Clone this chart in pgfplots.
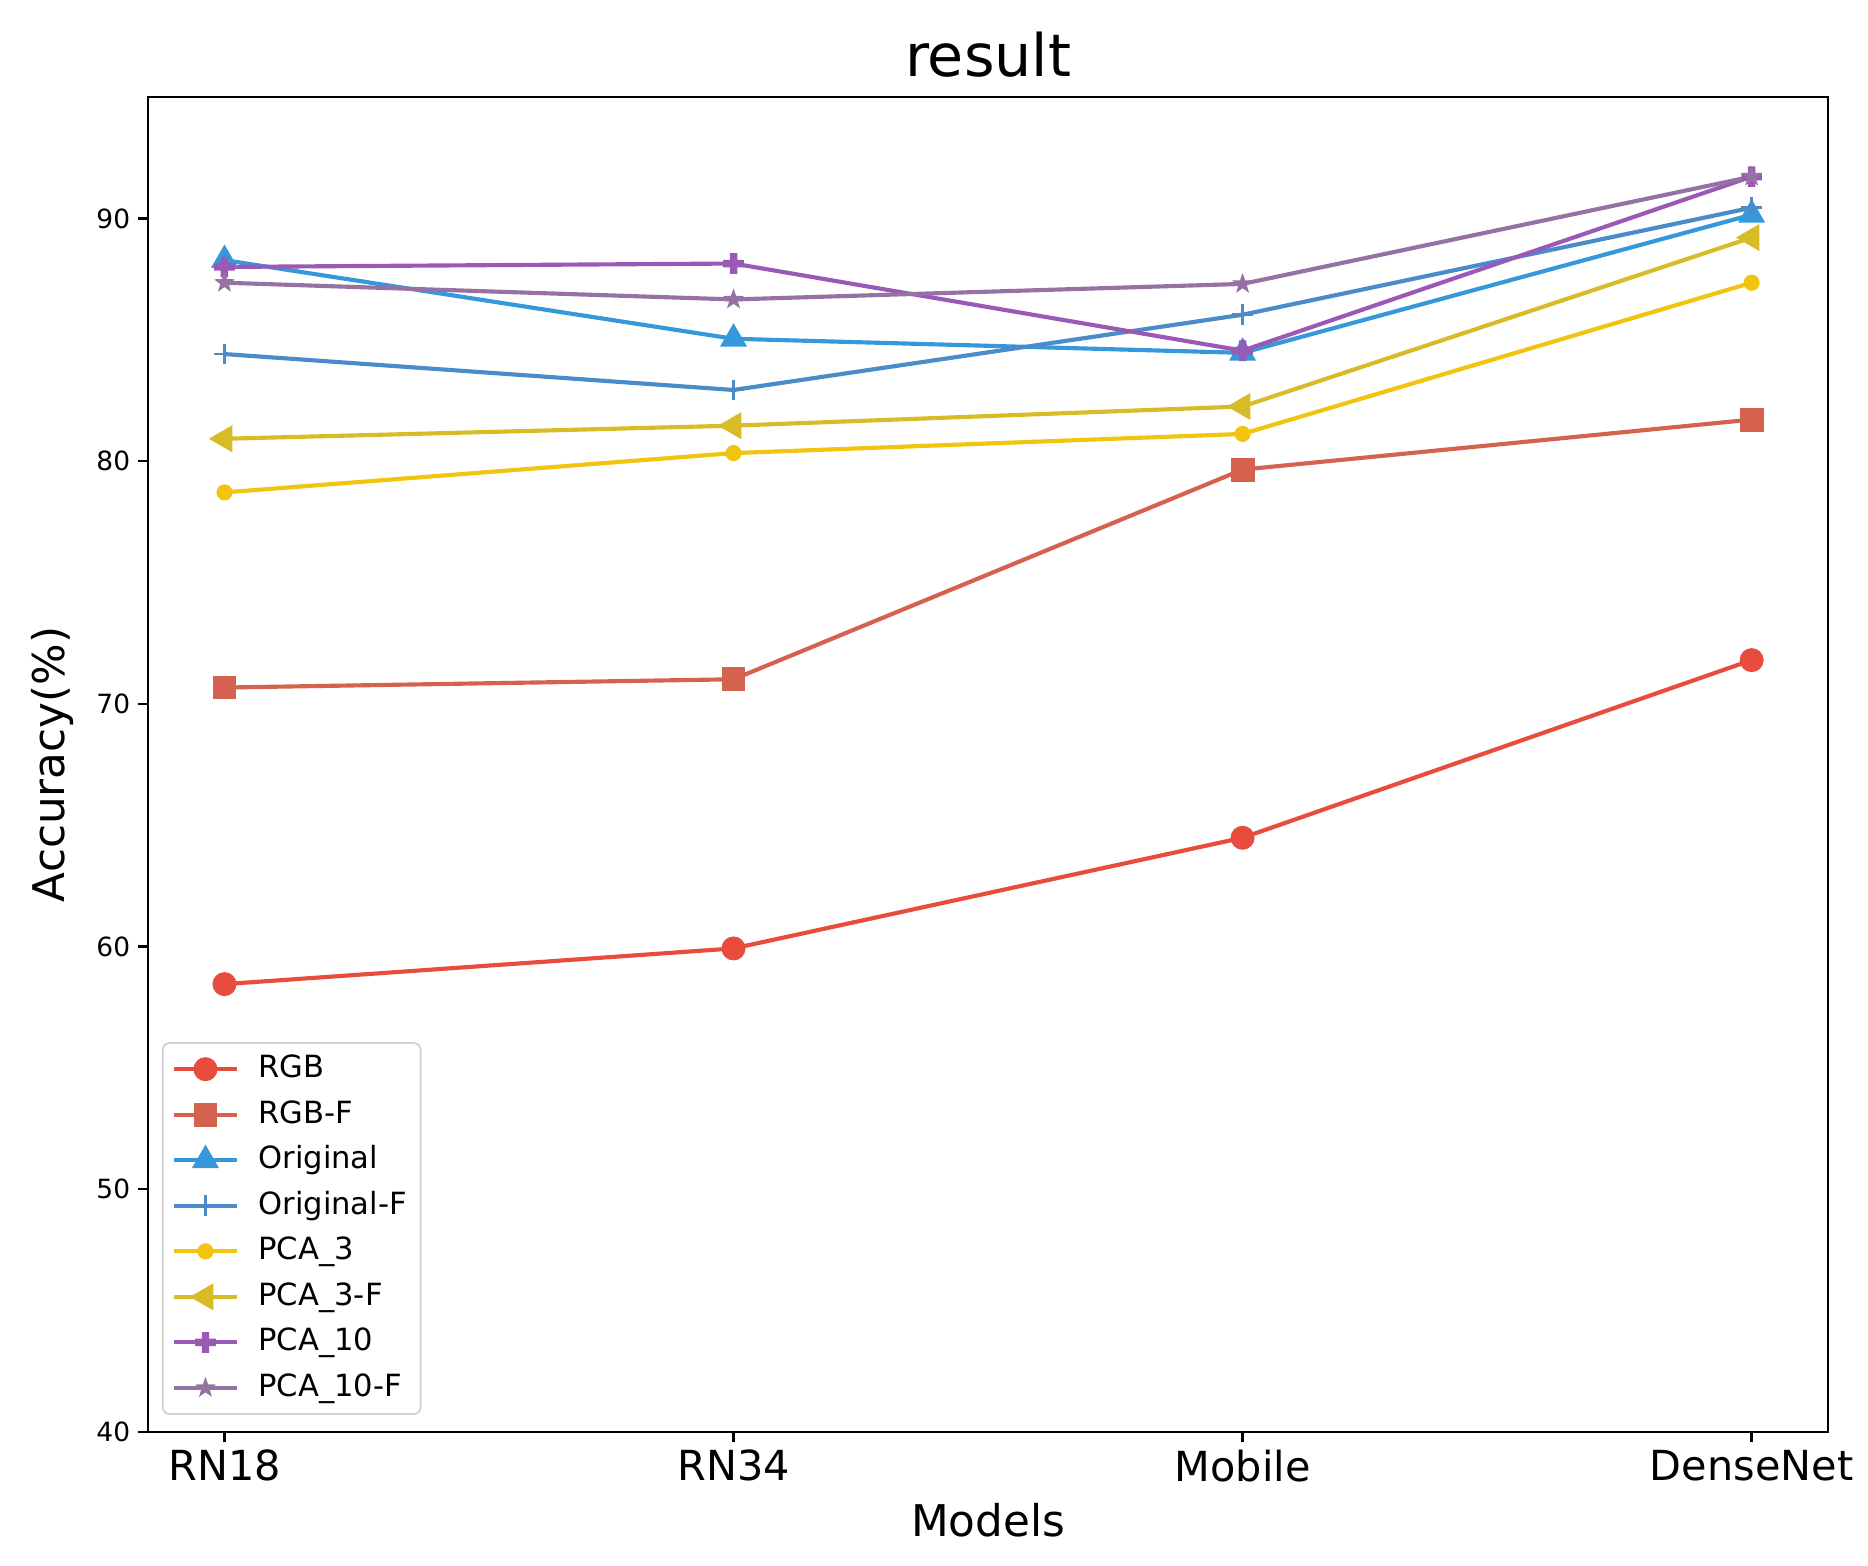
\documentclass[border=0pt]{standalone}
\usepackage{fontspec}
\setmainfont{DejaVu Sans}
\usepackage{pgfplots}
\pgfplotsset{compat=1.18}

\definecolor{cRGB}{HTML}{E74C3C}
\definecolor{cRGBF}{HTML}{D4624F}
\definecolor{cOrig}{HTML}{3498DB}
\definecolor{cOrigF}{HTML}{4A8BC9}
\definecolor{cPCAt}{HTML}{F1C40F}
\definecolor{cPCAtF}{HTML}{D8BC27}
\definecolor{cPCAx}{HTML}{9B59B6}
\definecolor{cPCAxF}{HTML}{9672A4}

% filled plus (matplotlib 'P')
\pgfdeclareplotmark{fplus}{%
  \pgfpathrectanglecorners{\pgfqpoint{-\pgfplotmarksize}{-0.36\pgfplotmarksize}}{\pgfqpoint{\pgfplotmarksize}{0.36\pgfplotmarksize}}%
  \pgfpathrectanglecorners{\pgfqpoint{-0.36\pgfplotmarksize}{-\pgfplotmarksize}}{\pgfqpoint{0.36\pgfplotmarksize}{\pgfplotmarksize}}%
  \pgfusepathqfill}
% filled five-pointed star (matplotlib '*')
\pgfdeclareplotmark{fstar}{%
  \pgfpathmoveto{\pgfpointpolar{90}{\pgfplotmarksize}}%
  \pgfpathlineto{\pgfpointpolar{126}{0.4\pgfplotmarksize}}%
  \pgfpathlineto{\pgfpointpolar{162}{\pgfplotmarksize}}%
  \pgfpathlineto{\pgfpointpolar{198}{0.4\pgfplotmarksize}}%
  \pgfpathlineto{\pgfpointpolar{234}{\pgfplotmarksize}}%
  \pgfpathlineto{\pgfpointpolar{270}{0.4\pgfplotmarksize}}%
  \pgfpathlineto{\pgfpointpolar{306}{\pgfplotmarksize}}%
  \pgfpathlineto{\pgfpointpolar{342}{0.4\pgfplotmarksize}}%
  \pgfpathlineto{\pgfpointpolar{18}{\pgfplotmarksize}}%
  \pgfpathlineto{\pgfpointpolar{54}{0.4\pgfplotmarksize}}%
  \pgfpathclose
  \pgfusepathqfill}

\begin{document}
\begin{tikzpicture}
  \begin{axis}[
      name=ax,
      at={(0,0)}, anchor=south west,
      scale only axis,
      width=730.4pt, height=580.4pt,
      xmin=-0.15, xmax=3.15,
      ymin=40, ymax=95,
      xtick={0,1,2,3},
      xticklabels={RN18,RN34,Mobile,DenseNet},
      ytick={40,50,60,70,80,90},
      tick align=outside,
      major tick length=4.3pt,
      tick style={black, line width=1pt},
      xtick pos=bottom, ytick pos=left,
      axis line style={line width=1.2pt},
      /pgf/number format/assume math mode=true,
      yticklabel style={font=\fontsize{11.5}{13}\selectfont},
      xticklabel style={font=\fontsize{18}{21}\selectfont},
      title={result},
      title style={font=\fontsize{25.5}{29}\selectfont, at={(0.5,1)}, anchor=base, yshift=3.1pt, inner sep=0pt},
      xlabel={Models},
      xlabel style={font=\fontsize{19}{22}\selectfont, at={([yshift=-31pt]axis description cs:0.5,0)}, anchor=north, inner sep=0pt},
      ylabel={Accuracy(\%)},
      ylabel style={font=\fontsize{19}{22}\selectfont, at={([xshift=-32pt]axis description cs:0,0.5)}, anchor=south, inner sep=0pt},
      legend cell align=left,
      legend style={
        at={(0.0082,0.0127)}, anchor=south west,
        draw=black!18, rounded corners=3pt, line width=0.8pt,
        font=\fontsize{13.3}{15}\selectfont,
        row sep=3.1pt, column sep=6.5pt,
        inner xsep=4pt, inner ysep=3pt,
        nodes={inner sep=2pt, text height=10pt, text depth=2.7pt},
      },
      legend image code/.code={%
        \draw[mark repeat=2,mark phase=2] plot coordinates {(0cm,0cm) (0.48cm,0cm) (0.96cm,0cm)};},
      every axis plot/.append style={line width=1.8pt},
    ]
    % RGB
    \addplot[color=cRGB, mark=*, mark size=4.3pt, mark options={solid}] coordinates {
      (0, 58.45) (1, 59.92) (2, 64.48) (3, 71.80)
    };
    \addlegendentry{RGB}
    % RGB-F
    \addplot[color=cRGBF, mark=square*, mark size=4.3pt] coordinates {
      (0, 70.67) (1, 71.01) (2, 79.65) (3, 81.71)
    };
    \addlegendentry{RGB-F}
    % Original
    \addplot[color=cOrig, mark=triangle*, mark size=5pt] coordinates {
      (0, 88.28) (1, 85.04) (2, 84.46) (3, 90.15)
    };
    \addlegendentry{Original}
    % Original-F
    \addplot[color=cOrigF, mark=+, mark size=4.5pt, mark options={line width=1.1pt}] coordinates {
      (0, 84.41) (1, 82.93) (2, 86.03) (3, 90.44)
    };
    \addlegendentry{Original-F}
    % PCA_3
    \addplot[color=cPCAt, mark=*, mark size=2.6pt] coordinates {
      (0, 78.71) (1, 80.33) (2, 81.12) (3, 87.35)
    };
    \addlegendentry{PCA\_3}
    % PCA_3-F
    \addplot[color=cPCAtF, mark=triangle*, mark size=5pt, mark options={rotate=90}] coordinates {
      (0, 80.92) (1, 81.46) (2, 82.25) (3, 89.21)
    };
    \addlegendentry{PCA\_3-F}
    % PCA_10
    \addplot[color=cPCAx, mark=fplus, mark size=4.5pt] coordinates {
      (0, 88.00) (1, 88.14) (2, 84.55) (3, 91.72)
    };
    \addlegendentry{PCA\_10}
    % PCA_10-F
    \addplot[color=cPCAxF, mark=fstar, mark size=4.8pt] coordinates {
      (0, 87.35) (1, 86.66) (2, 87.30) (3, 91.72)
    };
    \addlegendentry{PCA\_10-F}
  \end{axis}
  \useasboundingbox ([xshift=-64.4pt,yshift=-58.3pt]ax.south west)
    rectangle ([xshift=17.4pt,yshift=42.2pt]ax.north east);
\end{tikzpicture}
\end{document}
